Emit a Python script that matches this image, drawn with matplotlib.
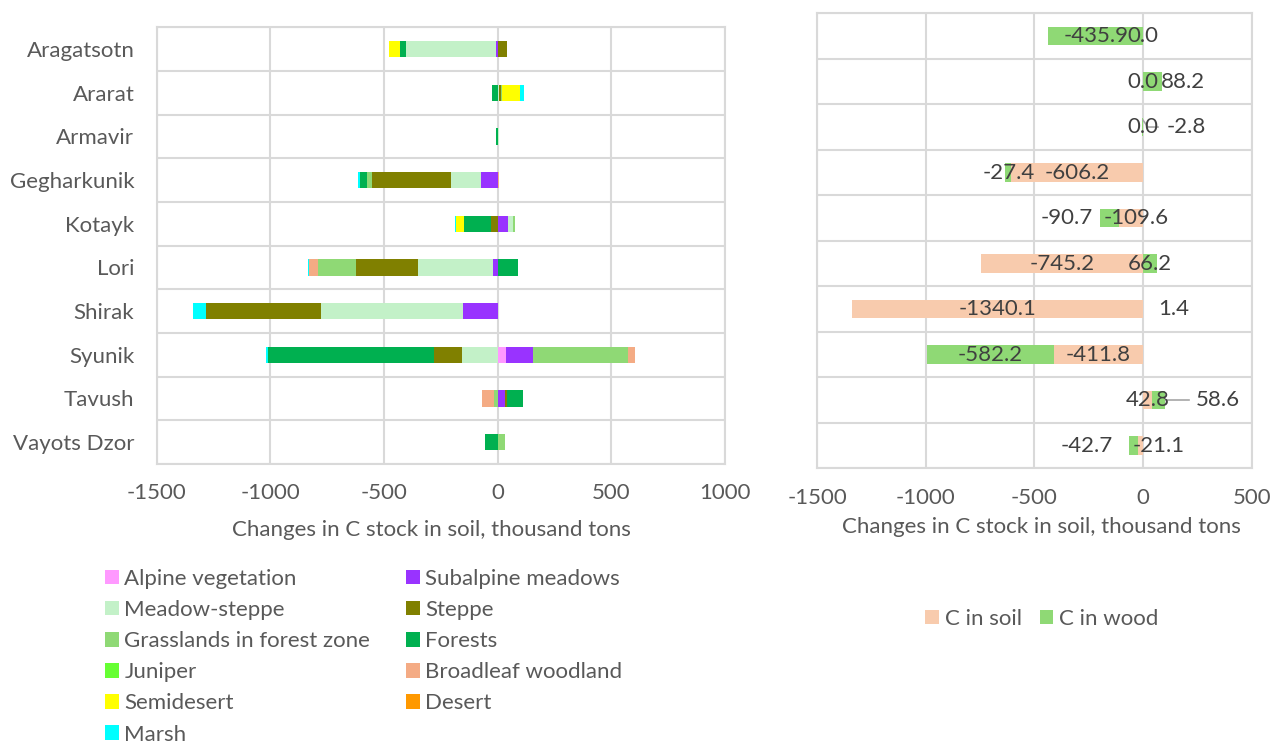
import numpy as np
import matplotlib
matplotlib.use('Agg')
import matplotlib.pyplot as plt
from matplotlib.patches import Patch

plt.rcParams['font.family'] = ['Lato', 'DejaVu Sans']
plt.rcParams['axes.unicode_minus'] = False

regions = ['Aragatsotn', 'Ararat', 'Armavir', 'Gegharkunik', 'Kotayk',
           'Lori', 'Shirak', 'Syunik', 'Tavush', 'Vayots Dzor']

# left chart: change by vegetation type, thousand tons
series_names = ['Alpine vegetation', 'Subalpine meadows', 'Meadow-steppe', 'Steppe',
                'Grasslands in forest zone', 'Forests', 'Juniper', 'Broadleaf woodland',
                'Semidesert', 'Desert', 'Marsh']
alpine = [0, 0, 0, 0, 0, 0, 0, 35, 0, 0]
subalpine = [-7, 0, 0, -75, 47, -20, -151, 121, 32, 0]
meadow_steppe = [-396, 4, 4.2, -129, 22, -331, -627, -158, 0, 0]
steppe = [42, 10, 0, -350, -31, -274, -506, -120, 7, 0]
grassland = [0, 5, 0, -22, 7, -164, 0, 418, -15, 34]
forests = [-26, -24, -7, -31, -117, 91, 0, -730, 73, -55]
juniper = [0, 0, 0, 0, 0, 0, 0, 0, 0, 0]
broadleaf = [0, 0, 0, 6, 0, -41, 0, 29, -55, 0]
semidesert = [-47, 80, 0, 0, -35, 0, 0, 0, 0, 0]
desert = [0, -2, 0, 0, 0, 0, 0, 0, 0, 0]
marsh = [-4, 15, 0, -7, -3, -4, -56, -10, 0, 0]
series_vals = [alpine, subalpine, meadow_steppe, steppe, grassland, forests,
               juniper, broadleaf, semidesert, desert, marsh]
series_colors = ['#FF99FF', '#9933FF', '#C3F1C8', '#808000', '#8FD975', '#00B050',
                 '#66FF33', '#F4AB84', '#FFFF00', '#FF9900', '#00FFFF']

# right chart
c_soil = [0.0, 0.0, 0.0, -606.2, -109.6, -745.2, -1340.1, -411.8, 42.8, -21.1]
c_wood = [-435.9, 88.2, -2.8, -27.4, -90.7, 66.2, 1.4, -582.2, 58.6, -42.7]

grid_c = '#D9D9D9'
txt_c = '#595959'
lab_c = '#404040'
fs = 16

fig = plt.figure(figsize=(12.73, 7.42), dpi=100)

# ---------- left chart ----------
ax1 = fig.add_axes([0.1230, 0.3747, 0.4466, 0.5885])
y = np.arange(len(regions))
pos = np.zeros(len(regions))
neg = np.zeros(len(regions))
handles = []
for name, vals, col in zip(series_names, series_vals, series_colors):
    v = np.array(vals, dtype=float)
    left = np.where(v >= 0, pos, neg)
    ax1.barh(y, v, left=left, height=0.38, color=col, edgecolor='none', zorder=3)
    pos = pos + np.where(v > 0, v, 0)
    neg = neg + np.where(v < 0, v, 0)
    handles.append(Patch(facecolor=col, edgecolor='none', label=name))

ax1.set_xlim(-1500, 1000)
ax1.set_ylim(len(regions) - 0.5, -0.5)
ax1.set_xticks(np.arange(-1500, 1001, 500))
ax1.set_yticks(y)
ax1.set_yticklabels(regions)
ax1.set_yticks(np.arange(-0.5, len(regions), 1), minor=True)
ax1.grid(axis='x', color=grid_c, lw=1.5, zorder=0)
ax1.grid(axis='y', which='minor', color=grid_c, lw=1.5, zorder=0)
ax1.tick_params(axis='both', which='both', length=0, labelsize=fs, labelcolor=txt_c)
ax1.tick_params(axis='x', pad=14)
ax1.tick_params(axis='y', pad=16)
for s in ax1.spines.values():
    s.set_color(grid_c)
    s.set_linewidth(1.5)
ax1.set_xlabel('Changes in C stock in soil, thousand tons', fontsize=fs, color=txt_c)
ax1.xaxis.set_label_coords(0.484, -0.129)

# legend row-major in 2 columns
order = [0, 2, 4, 6, 8, 10, 1, 3, 5, 7, 9]
fig.legend([handles[i] for i in order], [series_names[i] for i in order],
           ncol=2, loc='upper left', bbox_to_anchor=(0.0825, 0.2332), frameon=False,
           fontsize=fs, labelcolor=txt_c, handlelength=0.62, handleheight=0.62,
           handletextpad=0.25, columnspacing=1.6, labelspacing=0.5,
           borderaxespad=0, borderpad=0)

# ---------- right chart ----------
ax2 = fig.add_axes([0.6420, 0.3689, 0.3412, 0.6132])
soil = np.array(c_soil)
wood = np.array(c_wood)
soil_left = np.zeros(len(regions))
wood_left = np.where(wood >= 0, np.where(soil > 0, soil, 0), np.where(soil < 0, soil, 0))
ax2.barh(y, soil, left=soil_left, height=0.4, color='#F8CBAD', edgecolor='none', zorder=3, label='C in soil')
ax2.barh(y, wood, left=wood_left, height=0.4, color='#8FD975', edgecolor='none', zorder=3, label='C in wood')

ax2.set_xlim(-1500, 500)
ax2.set_ylim(len(regions) - 0.5, -0.5)
ax2.set_xticks(np.arange(-1500, 501, 500))
ax2.set_yticks([])
ax2.set_yticks(np.arange(-0.5, len(regions), 1), minor=True)
ax2.grid(axis='x', color=grid_c, lw=1.5, zorder=0)
ax2.grid(axis='y', which='minor', color=grid_c, lw=1.5, zorder=0)
ax2.tick_params(axis='both', which='both', length=0, labelsize=fs, labelcolor=txt_c)
ax2.tick_params(axis='x', pad=14)
for s in ax2.spines.values():
    s.set_color(grid_c)
    s.set_linewidth(1.5)
ax2.set_xlabel('Changes in C stock in soil, thousand tons', fontsize=fs, color=txt_c)
ax2.xaxis.set_label_coords(0.515, -0.108)

# data labels, centred in bars unless moved by hand
soil_lx = soil_left + soil / 2
wood_lx = wood_left + wood / 2
soil_moved = {4: -32, 9: 71}
wood_moved = {1: 183, 2: 198, 4: -352, 6: 140, 8: 346, 9: -260}
for i in range(len(regions)):
    sx = soil_moved.get(i, soil_lx[i])
    wx = wood_moved.get(i, wood_lx[i])
    ax2.text(sx, i, f'{soil[i]:.1f}', ha='center', va='center', fontsize=16, color=lab_c, zorder=5)
    ax2.text(wx, i, f'{wood[i]:.1f}', ha='center', va='center', fontsize=16, color=lab_c, zorder=5)
# leader lines
ax2.plot([0, 23, 69], [1.85, 2.0, 2.0], color='#A6A6A6', lw=1.2, zorder=4)
ax2.plot([105, 213], [8.0, 8.0], color='#A6A6A6', lw=1.2, zorder=4)

ax2.legend(loc='upper center', bbox_to_anchor=(0.517, -0.309), ncol=2, frameon=False,
           fontsize=fs, labelcolor=txt_c, handlelength=0.62, handleheight=0.62,
           handletextpad=0.25, columnspacing=0.8, borderaxespad=0, borderpad=0)

fig.savefig('out.png', dpi=100)
